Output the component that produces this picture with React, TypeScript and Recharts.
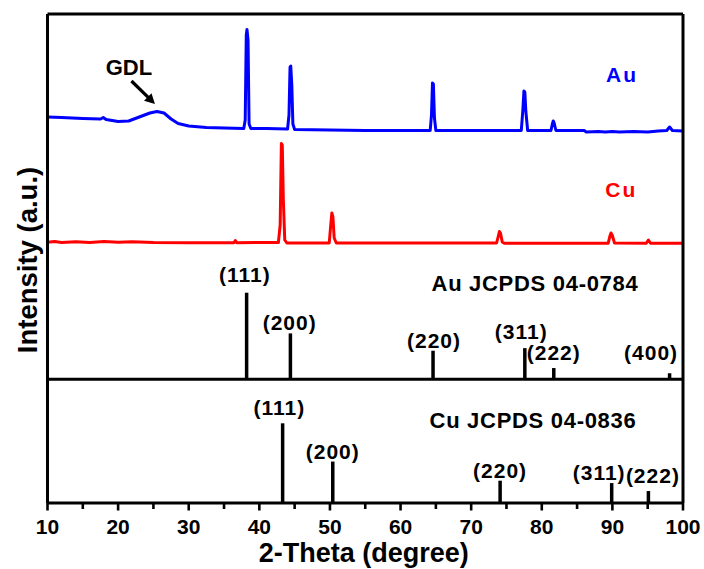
import React from 'react';
import { ComposedChart, Line, XAxis, YAxis, ReferenceLine, ReferenceDot } from 'recharts';

const FONT = "'Liberation Sans', Arial, Helvetica, sans-serif";
const BLUE = '#0000ff';
const RED = '#ff0000';

// Measured Au XRD pattern: [2-theta, intensity above its own baseline]
const auXrd: [number, number][] = [
  [10, 14], [12, 13.5], [15, 12.5], [17.5, 12], [17.9, 13.5], [18.3, 11.5], [20, 9.5], [21.5, 10],
  [23, 14], [24.5, 18], [25.5, 19.5], [26.5, 18], [27.5, 12], [28.5, 7.5], [30, 5], [32.5, 3.5],
  [35, 3], [37.8, 2.5], [38.0, 11], [38.15, 96], [38.25, 101.5], [38.4, 91], [38.55, 7], [38.8, 2.5],
  [41, 2.5], [44.0, 2], [44.2, 16], [44.35, 64], [44.45, 65], [44.6, 46], [44.75, 7], [45.0, 1.5],
  [50, 1], [55, 0.5], [60, 0.5], [64.2, 0.5], [64.38, 16], [64.52, 48], [64.65, 47], [64.8, 13],
  [65.0, 0.5], [70, 0.5], [77.1, 0.5], [77.32, 21], [77.47, 40], [77.6, 39], [77.75, 19], [78.0, 0.5],
  [81.3, 0.5], [81.5, 7], [81.62, 10], [81.75, 8], [82.0, 0.5], [86, 0.5], [86.3, -1], [88, -0.5],
  [89, -1], [90, -0.5], [91, -1], [93, -0.5], [95, -1], [96.5, 0], [97.7, 0.5], [98.1, 4],
  [98.5, 0.5], [100, 0],
];

// Measured Cu XRD pattern: [2-theta, intensity above its own baseline]
const cuXrd: [number, number][] = [
  [10, 0.7], [11, 1.5], [12, 0.5], [14, 1.2], [16, 0.5], [18, 1.5], [20, 0.7], [22, 1.2],
  [25, 0.5], [30, 0.3], [36.4, 0.3], [36.6, 2.5], [36.8, 0.3], [42.7, 0.5], [42.95, 18], [43.12, 99.5],
  [43.25, 98], [43.4, 43], [43.6, 3], [43.9, 0], [49.9, 0], [50.1, 17], [50.27, 30], [50.42, 26],
  [50.6, 5], [50.9, 0], [60, 0], [73.6, 0], [73.85, 7], [74.0, 11.5], [74.15, 10], [74.4, 1],
  [74.7, -0.3], [89.4, -0.3], [89.65, 7], [89.8, 10], [89.97, 8], [90.3, 0], [94.8, -0.3], [95.1, 3],
  [95.4, -0.3], [100, -0.3],
];

// Reference (JCPDS) stick patterns
const auRefTheta = [38.2, 44.4, 64.6, 77.6, 81.7, 98.1];
const auRefI = [100, 53, 33, 36, 13, 7];
const auRefHkl = ['(111)', '(200)', '(220)', '(311)', '(222)', '(400)'];
const cuRefTheta = [43.3, 50.4, 74.1, 89.9, 95.1];
const cuRefI = [100, 52, 28, 25, 15];
const cuRefHkl = ['(111)', '(200)', '(220)', '(311)', '(222)'];

const xTicks = [10, 15, 20, 25, 30, 35, 40, 45, 50, 55, 60, 65, 70, 75, 80, 85, 90, 95, 100];

// Stacking layout (offsets in a.u.)
const Y_MAX = 489;
const AU_XRD_OFFSET = 372;
const CU_XRD_OFFSET = 260;
const AU_REF_BASE = 123.7;
const AU_REF_SCALE = 0.866;
const CU_REF_BASE = 0;
const CU_REF_SCALE = 0.797;

const auLabelOffset = [[-1.7, -10.7], [-0.7, -3.3], [1, -3], [-3.6, -9.3], [0, -8], [-18.5, -12.8]];
const cuLabelOffset = [[-3.3, -8.8], [0, -3], [0, -3], [-12.5, -3.3], [4.5, -7.7]];

const auData = auXrd.map(([x, y]) => ({ x, y: y + AU_XRD_OFFSET }));
const cuData = cuXrd.map(([x, y]) => ({ x, y: y + CU_XRD_OFFSET }));

const XTick = (props: any) => {
  const { x, y, payload } = props;
  const v = payload.value;
  const major = v % 10 === 0;
  return (
    <g>
      <line x1={x} x2={x} y1={y} y2={y + (major ? 7.5 : 6)} stroke="#000" strokeWidth={2.6} />
      {major && (
        <text x={x} y={y + 31} textAnchor="middle" fontSize={21} fontWeight="bold" fontFamily={FONT} fill="#000">
          {v}
        </text>
      )}
    </g>
  );
};

const textShape = (t: string, opts: any) => (p: any) => (
  <text
    x={p.cx + (opts.dx || 0)}
    y={p.cy + (opts.dy || 0)}
    textAnchor="middle"
    fontSize={opts.size || 21}
    fontWeight="bold"
    fontFamily={FONT}
    fill={opts.color || '#000'}
    letterSpacing={opts.ls || 0}
    transform={opts.rotate ? `rotate(-90 ${p.cx + (opts.dx || 0)} ${p.cy + (opts.dy || 0)})` : undefined}
  >
    {t}
  </text>
);

const arrowShape = (p: any) => {
  const { cx, cy } = p;
  return (
    <g>
      <line x1={cx - 23.5} y1={cy - 23} x2={cx - 6} y2={cy - 5.8} stroke="#000" strokeWidth={3.2} />
      <polygon points={`${cx},${cy} ${cx - 11},${cy - 3.2} ${cx - 3.5},${cy - 10.8}`} fill="#000" />
    </g>
  );
};

export default function App() {
  return (
    <div style={{ position: 'absolute', left: 0, top: 0 }}>
      <ComposedChart width={704} height={569} margin={{ top: 14, right: 21, bottom: 0, left: 47.5 }}>
        <XAxis
          dataKey="x"
          type="number"
          domain={[10, 100]}
          ticks={xTicks}
          interval={0}
          allowDataOverflow
          height={66}
          tickSize={0}
          tickMargin={0}
          tickLine={false}
          axisLine={{ stroke: '#000', strokeWidth: 3 }}
          tick={<XTick />}
        />
        <YAxis type="number" domain={[0, Y_MAX]} hide allowDataOverflow />

        <Line data={auData} dataKey="y" type="linear" stroke={BLUE} strokeWidth={3} dot={false}
          strokeLinejoin="round" isAnimationActive={false} />
        <Line data={cuData} dataKey="y" type="linear" stroke={RED} strokeWidth={3} dot={false}
          strokeLinejoin="round" isAnimationActive={false} />

        {auRefTheta.map((t, i) => (
          <ReferenceLine key={'as' + i} stroke="#000" strokeWidth={3.5}
            segment={[{ x: t, y: AU_REF_BASE }, { x: t, y: AU_REF_BASE + auRefI[i] * AU_REF_SCALE }]} />
        ))}
        {cuRefTheta.map((t, i) => (
          <ReferenceLine key={'cs' + i} stroke="#000" strokeWidth={3.5}
            segment={[{ x: t, y: CU_REF_BASE }, { x: t, y: CU_REF_BASE + cuRefI[i] * CU_REF_SCALE }]} />
        ))}

        <ReferenceLine y={AU_REF_BASE} stroke="#000" strokeWidth={3} />
        <ReferenceLine y={Y_MAX} stroke="#000" strokeWidth={3} />
        <ReferenceLine x={10} stroke="#000" strokeWidth={3} />
        <ReferenceLine x={100} stroke="#000" strokeWidth={3} />

        {auRefTheta.map((t, i) => (
          <ReferenceDot key={'al' + i} x={t} y={AU_REF_BASE + auRefI[i] * AU_REF_SCALE} r={0}
            shape={textShape(auRefHkl[i], { dx: auLabelOffset[i][0], dy: auLabelOffset[i][1], ls: 1 })} />
        ))}
        {cuRefTheta.map((t, i) => (
          <ReferenceDot key={'cl' + i} x={t} y={CU_REF_BASE + cuRefI[i] * CU_REF_SCALE} r={0}
            shape={textShape(cuRefHkl[i], { dx: cuLabelOffset[i][0], dy: cuLabelOffset[i][1], ls: 1 })} />
        ))}

        <ReferenceDot x={21.54} y={428} r={0} shape={textShape('GDL', { size: 22 })} />
        <ReferenceDot x={25.22} y={399} r={0} shape={arrowShape} />
        <ReferenceDot x={91.36} y={421.3} r={0} shape={textShape('Au', { size: 21, color: BLUE, ls: 2 })} />
        <ReferenceDot x={91.26} y={306.3} r={0} shape={textShape('Cu', { size: 21, color: RED, ls: 2 })} />
        <ReferenceDot x={79.04} y={212.3} r={0} shape={textShape('Au JCPDS 04-0784', { size: 22, ls: 0.7 })} />
        <ReferenceDot x={78.76} y={74.7} r={0} shape={textShape('Cu JCPDS 04-0836', { size: 22, ls: 0.7 })} />
        <ReferenceDot x={54.78} y={0} r={0} shape={textShape('2-Theta (degree)', { size: 27, dy: 58.5 })} />
        <ReferenceDot x={10} y={243} r={0} shape={textShape('Intensity (a.u.)', { size: 27.5, dx: -10.8, rotate: true })} />
      </ComposedChart>
    </div>
  );
}
